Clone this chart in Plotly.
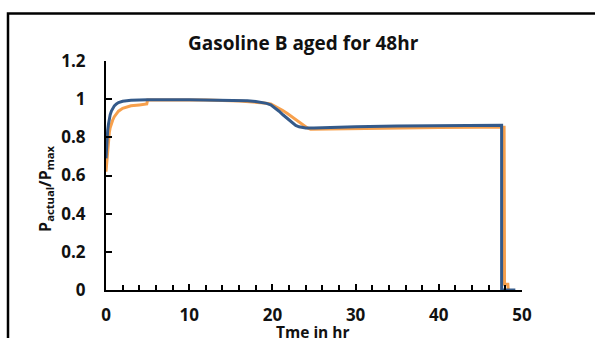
import plotly.graph_objects as go

# Measured (orange) series
measured_time = [0, 0.05, 0.1, 0.2, 0.3, 0.4, 0.5, 0.65, 0.8, 1.0, 1.25, 1.5, 2.0, 2.5, 3.0, 4.0,
                 4.9, 5.0, 8, 12, 16, 18, 19, 19.8, 20.5, 21.2, 21.8, 22.5, 23.1, 23.7, 24.2, 24.6,
                 26, 30, 35, 40, 45, 47.85, 47.9, 48.3, 48.35]
measured_ratio = [0.62, 0.65, 0.68, 0.74, 0.79, 0.825, 0.85, 0.873, 0.89, 0.908, 0.925, 0.937,
                  0.952, 0.96, 0.965, 0.97, 0.975, 0.995, 0.996, 0.995, 0.99, 0.985, 0.98, 0.975,
                  0.96, 0.942, 0.925, 0.902, 0.882, 0.865, 0.849, 0.842, 0.843, 0.848, 0.85,
                  0.852, 0.853, 0.853, 0.03, 0.03, 0.0]

# Model (blue) series
model_time = [0, 0.05, 0.1, 0.2, 0.3, 0.4, 0.5, 0.65, 0.8, 1.0, 1.25, 1.5, 2.0, 2.5, 3.0, 4.0,
              5.0, 10, 15, 17, 18, 18.7, 19.3, 19.8, 20.3, 20.8, 21.3, 21.8, 22.3, 22.8, 23.2,
              23.6, 24.0, 25, 27, 30, 35, 40, 45, 47.55, 47.55, 49.2]
model_ratio = [0.69, 0.74, 0.78, 0.835, 0.87, 0.9, 0.918, 0.938, 0.952, 0.965, 0.975, 0.982,
               0.989, 0.992, 0.994, 0.996, 0.997, 0.997, 0.995, 0.992, 0.988, 0.984, 0.978,
               0.97, 0.955, 0.937, 0.917, 0.897, 0.878, 0.862, 0.855, 0.851, 0.849, 0.849,
               0.852, 0.856, 0.859, 0.861, 0.862, 0.863, 0.0, 0.0]

x_ticks = [0, 10, 20, 30, 40, 50]
y_ticks = [0, 0.2, 0.4, 0.6, 0.8, 1.0, 1.2]
y_tick_text = ["0", "0.2", "0.4", "0.6", "0.8", "1", "1.2"]

title_text = "Gasoline B aged for 48hr"
x_title = "Tme in hr"
y_title = "P<sub>actual</sub>/P<sub>max</sub>"

W, H = 595, 338
L, R, T, B = 106, 522, 61, 292  # plot area pixel bounds
pw, ph = R - L, B - T

def px(xp):
    return (xp - L) / pw

def py(yp):
    return (B - yp) / ph

font_main = dict(family="Open Sans", size=17, color="#111111", weight="bold")

fig = go.Figure()
fig.add_trace(go.Scatter(x=measured_time, y=measured_ratio, mode="lines",
                         line=dict(color="#f7a04c", width=3), showlegend=False))
fig.add_trace(go.Scatter(x=model_time, y=model_ratio, mode="lines",
                         line=dict(color="#345a8a", width=3), showlegend=False))

fig.update_layout(
    width=W, height=H,
    margin=dict(l=L, r=W - R, t=T, b=H - B, pad=0),
    paper_bgcolor="white", plot_bgcolor="white",
    showlegend=False,
    font=font_main,
    xaxis=dict(range=[0, 50], tickvals=x_ticks, showgrid=False, zeroline=False,
               showline=True, linecolor="black", linewidth=2,
               ticks="inside", ticklen=6, tickwidth=2, tickcolor="black",
               minor=dict(dtick=2, ticks="inside", ticklen=5, tickwidth=2, tickcolor="black"),
               ticklabelstandoff=9, tickfont=font_main),
    yaxis=dict(range=[0, 1.2], tickvals=y_ticks, ticktext=y_tick_text, showgrid=False,
               zeroline=False, showline=True, linecolor="black", linewidth=2,
               ticks="inside", ticklen=6, tickwidth=2, tickcolor="black",
               ticklabelstandoff=15, tickfont=font_main),
    shapes=[dict(type="rect", xref="paper", yref="paper",
                 x0=px(8), x1=px(605), y0=py(13), y1=py(350),
                 line=dict(color="black", width=2.5), fillcolor="rgba(0,0,0,0)", layer="below")],
    annotations=[
        dict(text=title_text, x=px(303), y=py(43), xref="paper", yref="paper",
             showarrow=False, xanchor="center", yanchor="middle",
             font=dict(family="Open Sans", size=19, color="#111111", weight="bold")),
        dict(text=x_title, x=px(313), y=py(334), xref="paper", yref="paper",
             showarrow=False, xanchor="center", yanchor="middle",
             font=dict(family="Open Sans", size=15.5, color="#111111", weight="bold")),
        dict(text=y_title, x=px(46), y=py(190), xref="paper", yref="paper",
             showarrow=False, xanchor="center", yanchor="middle", textangle=-90,
             font=dict(family="Open Sans", size=16, color="#111111", weight="bold")),
    ],
)

fig.write_html("out.html")
